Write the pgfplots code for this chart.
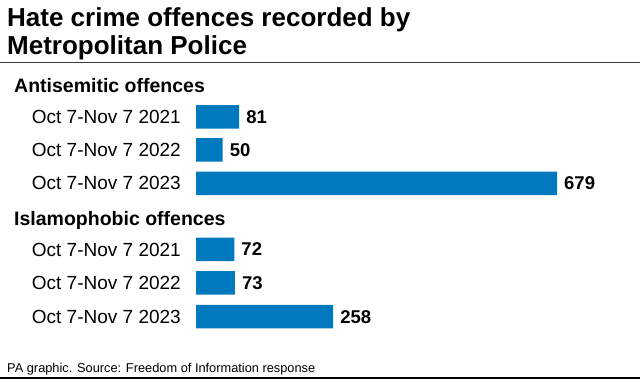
\documentclass[border=0pt]{standalone}
\usepackage{pgfplots}
\pgfplotsset{compat=1.18}
\usepackage{fontspec}
\setmainfont{Liberation Sans}
\definecolor{barblue}{RGB}{0,121,190}
\definecolor{rulegray}{RGB}{60,60,60}
\pgfplotstableread{
y val
-117 81
-150 50
-183.3 679
-249.5 72
-283 73
-316.7 258
}\datatable
\begin{document}
\begin{tikzpicture}
\useasboundingbox (0,0) rectangle (640pt,-379pt);
\fill[white] (0,0) rectangle (640pt,-379pt);
\node[anchor=base west, inner sep=0pt, font=\fontsize{26}{28}\selectfont\bfseries] at (7pt,-27pt) {Hate crime offences recorded by};
\node[anchor=base west, inner sep=0pt, font=\fontsize{26}{28}\selectfont\bfseries] at (7pt,-55pt) {Metropolitan Police};
\draw[rulegray, line width=1.5pt] (0,-62.5pt) -- (640pt,-62.5pt);
\node[anchor=base west, inner sep=0pt, font=\fontsize{19.5}{22}\selectfont\bfseries] at (14pt,-93pt) {Antisemitic offences};
\node[anchor=base west, inner sep=0pt, font=\fontsize{19.5}{22}\selectfont\bfseries] at (14pt,-226pt) {Islamophobic offences};
\node[anchor=base west, inner sep=0pt, font=\fontsize{12.8}{15}\selectfont] at (7pt,-372pt) {PA graphic. Source: Freedom of Information response};
\draw[black, line width=1.5pt] (0,-378pt) -- (640pt,-378pt);
\begin{axis}[
  at={(196pt,-379pt)}, anchor=south west,
  scale only axis, width=361pt, height=379pt,
  xmin=0, xmax=679, ymin=-379, ymax=0,
  axis line style={draw=none}, tick style={draw=none},
  major tick length=0pt,
  xtick=\empty,
  ytick={-117,-150,-183.3,-249.5,-283,-316.7},
  yticklabels={Oct 7-Nov 7 2021,Oct 7-Nov 7 2022,Oct 7-Nov 7 2023,Oct 7-Nov 7 2021,Oct 7-Nov 7 2022,Oct 7-Nov 7 2023},
  yticklabel style={font=\fontsize{19}{22}\selectfont, anchor=east, inner sep=0pt, xshift=-15pt},
  /pgf/number format/assume math mode=true,
  clip=false,
  xbar, bar width=23.5pt,
  nodes near coords,
  nodes near coords style={font=\fontsize{18.5}{22}\selectfont\bfseries, anchor=west, inner sep=0pt, xshift=7pt, text=black},
]
\addplot[fill=barblue, draw=none] table[x=val, y=y] {\datatable};
\end{axis}
\end{tikzpicture}
\end{document}
